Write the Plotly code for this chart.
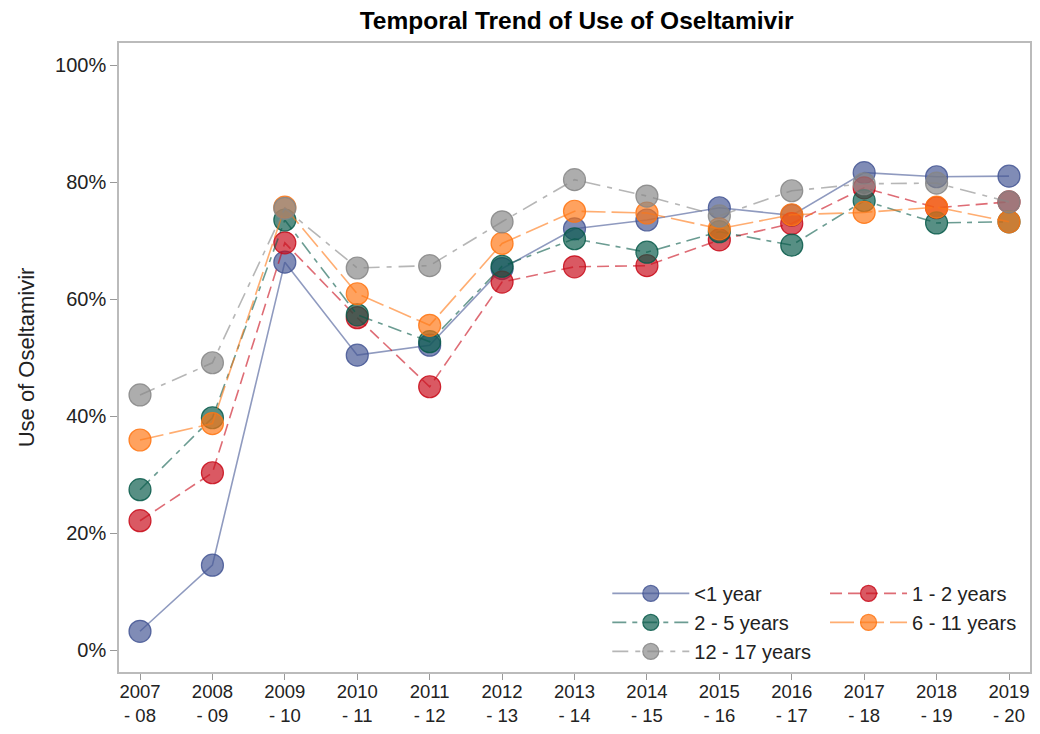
import plotly.graph_objects as go

seasons = ["2007<br>- 08", "2008<br>- 09", "2009<br>- 10", "2010<br>- 11", "2011<br>- 12",
           "2012<br>- 13", "2013<br>- 14", "2014<br>- 15", "2015<br>- 16", "2016<br>- 17",
           "2017<br>- 18", "2018<br>- 19", "2019<br>- 20"]

under1 = [3.2, 14.5, 66.3, 50.4, 52.1, 65.2, 72.0, 73.5, 75.6, 74.3, 81.6, 80.9, 81.0]
age1_2 = [22.1, 30.3, 69.6, 56.8, 45.0, 62.9, 65.5, 65.7, 70.1, 72.9, 79.0, 75.6, 76.6]
age2_5 = [27.4, 39.7, 73.5, 57.3, 52.7, 65.6, 70.3, 68.0, 71.5, 69.2, 76.8, 73.0, 73.2]
age6_11 = [35.9, 38.7, 75.7, 60.9, 55.5, 69.5, 75.0, 74.7, 72.0, 74.4, 74.8, 75.7, 73.2]
age12_17 = [43.6, 49.1, 75.5, 65.3, 65.7, 73.2, 80.4, 77.6, 74.2, 78.5, 79.7, 79.8, 76.6]

y_ticks = [0, 20, 40, 60, 80, 100]
y_tick_text = ["0%", "20%", "40%", "60%", "80%", "100%"]

series = [
    ("<1 year", under1, (68, 86, 148), "solid", "legend"),
    ("1 - 2 years", age1_2, (200, 10, 25), "12px,6px", "legend2"),
    ("2 - 5 years", age2_5, (8, 90, 74), "14px,6px,5px,6px", "legend"),
    ("6 - 11 years", age6_11, (255, 118, 19), "24px,6px", "legend2"),
    ("12 - 17 years", age12_17, (134, 134, 134), "16px,7px,5px,7px", "legend"),
]

x = list(range(len(seasons)))

fig = go.Figure()
for name, vals, c, dash, lg in series:
    r, g, b = c
    fig.add_trace(go.Scatter(
        x=x, y=vals, name=name, mode="lines+markers", legend=lg,
        line=dict(color=f"rgba({r},{g},{b},0.6)", width=1.6, dash=dash),
        marker=dict(size=22, color=f"rgba({r},{g},{b},0.68)",
                    line=dict(color=f"rgba({r},{g},{b},0.85)", width=1.2)),
    ))

H = 726
font_family = "Liberation Sans, Arial, sans-serif"
leg_common = dict(xanchor="left", yanchor="top", bgcolor="rgba(0,0,0,0)",
                  itemwidth=77, tracegroupgap=0, font=dict(size=20, color="#222"),
                  itemsizing="trace")
fig.update_layout(
    width=1032, height=H,
    margin=dict(l=111, r=10, t=35, b=H - 664),
    paper_bgcolor="white", plot_bgcolor="white",
    font=dict(family=font_family, size=20, color="#222"),
    title=dict(text="<b>Temporal Trend of Use of Oseltamivir</b>", x=0.551, xanchor="center",
               y=1 - 12 / H, yanchor="middle", font=dict(size=24.5, color="black")),
    xaxis=dict(tickmode="array", tickvals=x, ticktext=seasons, range=[-0.29, 12.29],
               automargin=False, ticklabelstandoff=-4,
               showgrid=False, zeroline=False, showline=True, mirror=True, linecolor="#BBBBBB",
               linewidth=1.5, ticks="outside", ticklen=6, tickcolor="#999", tickfont=dict(size=18.5)),
    yaxis=dict(range=[-3.76, 103.76], tickmode="array", tickvals=y_ticks, ticktext=y_tick_text,
               automargin=False,
               showgrid=False, zeroline=False, showline=True, mirror=True, linecolor="#BBBBBB",
               linewidth=1.5, ticks="outside", ticklen=7, tickcolor="#999", tickfont=dict(size=20),
               title=dict(text="Use of Oseltamivir", font=dict(size=22), standoff=14)),
    legend=dict(x=0.536, y=0.156, **leg_common),
    legend2=dict(x=0.775, y=0.156, **leg_common),
    showlegend=True,
)

fig.write_html("out.html")
